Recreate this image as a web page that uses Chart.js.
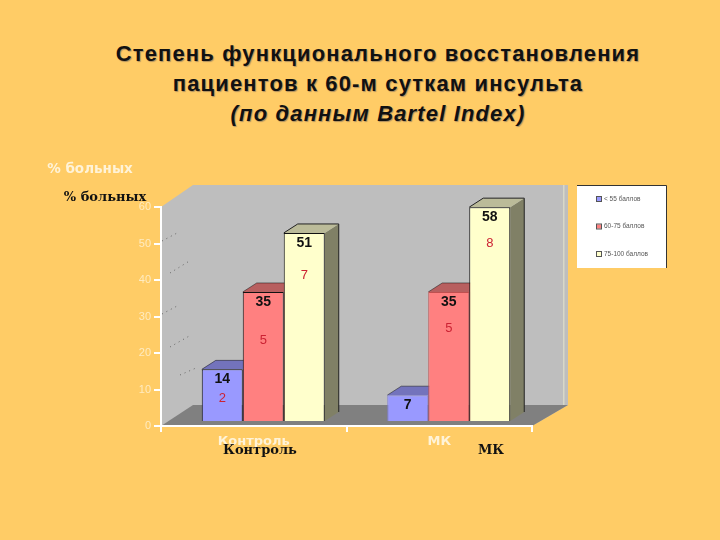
<!DOCTYPE html>
<html lang="ru">
<head>
<meta charset="utf-8">
<title>Bartel Index</title>
<script src="https://cdn.jsdelivr.net/npm/chart.js@4"></script>
<style>
	html, body { margin: 0; padding: 0; background: #FFCC66; }
	#wrap { position: relative; width: 720px; height: 540px; overflow: hidden; }
	#title {
		position: absolute; left: 0; top: 39px; width: 756px; margin: 0;
		font: bold 22px/30px "Liberation Sans", Arial, sans-serif;
		letter-spacing: 1.15px;
		color: #111; text-align: center; text-shadow: 1px 1px 1px #B09060;
	}
	#title i { display: block; }
	canvas { position: absolute; left: 0; top: 0; }
</style>
</head>
<body>
<div id="wrap">
	<h1 id="title">Степень функционального восстановления<br>пациентов к 60-м суткам инсульта<i>(по данным Bartel Index)</i></h1>
	<canvas id="chart" width="720" height="540"></canvas>
</div>
<script>
const categories = ['Контроль', 'МК'];
const seriesNames = ['< 55 баллов', '60-75 баллов', '75-100 баллов'];
const lowValues = [14, 7];
const midValues = [35, 35];
const highValues = [51, 58];
const lowCounts = [2, null];
const midCounts = [5, 5];
const highCounts = [7, 8];
const yTicks = [0, 10, 20, 30, 40, 50, 60];

// the bars stand on the floor, a bit behind the axis plane
const shiftX = 9.5;
const depthX = 14, depthY = 9;

const faces = [
	{ front: '#9999FF', top: '#7373BC', side: '#6A6A9A', edge: ['#111', '#8080D8'] },
	{ front: '#FF8080', top: '#B85F5F', side: '#A05050', edge: ['#111', '#C05050'] },
	{ front: '#FFFFCC', top: '#BBBB99', side: '#808066', edge: ['#111', '#111'] }
];
const counts = [lowCounts, midCounts, highCounts];
// how far below the bar top the red number sits
const countOffsets = [[29, 0], [48, 36], [42, 36]];

function poly( ctx, pts, fill ){
	ctx.beginPath();
	pts.forEach( (p, i) => i ? ctx.lineTo( p[0], p[1] ) : ctx.moveTo( p[0], p[1] ) );
	ctx.closePath();
	ctx.fillStyle = fill;
	ctx.fill();
}

function text( ctx, str, x, y, font, color ){
	ctx.font = font;
	ctx.fillStyle = color;
	ctx.textAlign = 'center';
	ctx.textBaseline = 'middle';
	ctx.fillText( str, x, y );
}

const scene = {
	id: 'scene',
	beforeDraw( chart ){
		const { ctx, chartArea: a } = chart;
		const wallL = a.left + 32, wallR = 568, wallT = 185, wallB = a.bottom - 21;
		ctx.save();
		poly( ctx, [[a.left, a.top], [wallL, wallT], [wallR, wallT], [wallR, wallB], [a.right, a.bottom], [a.left, a.bottom]], '#BEBEBE' );
		poly( ctx, [[a.left, a.bottom], [wallL, wallB], [wallR, wallB], [a.right, a.bottom]], '#808080' );
		ctx.fillStyle = '#D8D8C8';
		ctx.fillRect( 563, wallT, 1.5, wallB - wallT );
		// dotted scratches on the side wall
		ctx.strokeStyle = '#666';
		ctx.lineWidth = 1;
		ctx.setLineDash( [1, 4] );
		[[162, 241, 179, 232], [170, 273, 191, 260], [162, 314, 179, 305], [170, 347, 191, 335], [180, 375, 196, 368]].forEach( s => {
			ctx.beginPath();
			ctx.moveTo( s[0], s[1] );
			ctx.lineTo( s[2], s[3] );
			ctx.stroke();
		});
		ctx.restore();
	},
	beforeDatasetsDraw( chart ){
		const { ctx } = chart;
		ctx.save();
		ctx.translate( shiftX, 0 );
		chart.data.datasets.forEach( (ds, d) => {
			chart.getDatasetMeta( d ).data.forEach( bar => {
				const l = bar.x - bar.width / 2, r = bar.x + bar.width / 2;
				poly( ctx, [[r, bar.y], [r + depthX, bar.y - depthY], [r + depthX, bar.base - depthY], [r, bar.base]], faces[d].side );
				poly( ctx, [[l, bar.y], [l + depthX, bar.y - depthY], [r + depthX, bar.y - depthY], [r, bar.y]], faces[d].top );
				ctx.beginPath();
				ctx.moveTo( l, bar.y );
				ctx.lineTo( l + depthX, bar.y - depthY );
				ctx.lineTo( r + depthX, bar.y - depthY );
				ctx.lineTo( r + depthX, bar.base - depthY );
				ctx.strokeStyle = d === 2 ? '#222' : 'rgba(0,0,0,0.45)';
				ctx.lineWidth = 1;
				ctx.stroke();
			});
		});
	},
	afterDatasetsDraw( chart ){
		const { ctx } = chart;
		chart.data.datasets.forEach( (ds, d) => {
			chart.getDatasetMeta( d ).data.forEach( (bar, i) => {
				text( ctx, String( ds.data[i] ), bar.x, bar.y + 10, 'bold 14px "Liberation Sans", Arial, sans-serif', '#111' );
				if( counts[d][i] !== null ){
					text( ctx, String( counts[d][i] ), bar.x, bar.y + countOffsets[d][i], '13px "Liberation Sans", Arial, sans-serif', '#CC2233' );
				}
			});
		});
		ctx.restore();
	},
	afterDraw( chart ){
		const { ctx } = chart;
		const serif = 'bold 13px "DejaVu Serif", serif';
		const ghost = 'bold 13.5px "DejaVu Sans", sans-serif';
		ctx.save();
		// doubled captions, as on the slide
		text( ctx, '% больных', 90, 169, ghost, '#FFF3D8' );
		text( ctx, '% больных', 105, 198, serif, '#111' );
		text( ctx, categories[1], 491, 451, serif, '#111' );
		text( ctx, categories[0], 260, 451, serif, '#111' );

		// legend
		ctx.fillStyle = '#FFFFFF';
		ctx.fillRect( 577, 185, 89, 83 );
		ctx.strokeStyle = '#333';
		ctx.lineWidth = 1;
		ctx.beginPath();
		ctx.moveTo( 577, 185.5 );
		ctx.lineTo( 666.5, 185.5 );
		ctx.lineTo( 666.5, 268 );
		ctx.stroke();
		seriesNames.forEach( (name, i) => {
			const y = 199 + i * 27.5;
			ctx.fillStyle = faces[i].front;
			ctx.fillRect( 597, y - 2, 4, 4 );
			ctx.strokeStyle = '#555';
			ctx.strokeRect( 596.5, y - 2.5, 5, 5 );
			ctx.font = '6.5px "Liberation Sans", Arial, sans-serif';
			ctx.fillStyle = '#555';
			ctx.textAlign = 'left';
			ctx.textBaseline = 'middle';
			ctx.fillText( name, 604, y );
		});
		ctx.restore();
	}
};

new Chart( document.getElementById( 'chart' ), {
	type: 'bar',
	plugins: [scene],
	data: {
		labels: categories,
		datasets: [lowValues, midValues, highValues].map( (values, d) => ({
			label: seriesNames[d],
			data: values,
			yAxisID: 'yBars',
			backgroundColor: faces[d].front,
			borderColor: faces[d].edge,
			borderWidth: 1,
			borderSkipped: 'bottom',
			categoryPercentage: 0.663,
			barPercentage: 1
		}))
	},
	options: {
		responsive: false,
		animation: false,
		devicePixelRatio: 1,
		layout: { padding: { left: 121, right: 188, top: 207, bottom: 84 } },
		plugins: { legend: { display: false }, title: { display: false }, tooltip: { enabled: false } },
		scales: {
			x: {
				afterFit: s => { s.height = 30; },
				border: { color: '#FFFFFF', width: 2 },
				grid: { drawOnChartArea: false, color: '#FFFFFF', tickLength: 6, lineWidth: 2 },
				ticks: {
					color: '#FFF3D8', padding: 2,
					font: { family: '"DejaVu Sans", sans-serif', size: 13, weight: 'bold' }
				}
			},
			y: {
				min: 0, max: 60,
				afterFit: s => { s.width = 40; },
				afterBuildTicks: s => { s.ticks = yTicks.map( value => ({ value }) ); },
				border: { color: '#FFFFFF', width: 2 },
				grid: { drawOnChartArea: false, color: '#FFFFFF', tickLength: 7, lineWidth: 2 },
				ticks: {
					color: '#FFEBC0', padding: 3,
					font: { family: '"Liberation Sans", Arial, sans-serif', size: 11 }
				}
			},
			// same area, slightly steeper: bars sit behind the axis plane
			yBars: { display: false, min: -1.36, max: 58.04 }
		}
	}
});
</script>
</body>
</html>
